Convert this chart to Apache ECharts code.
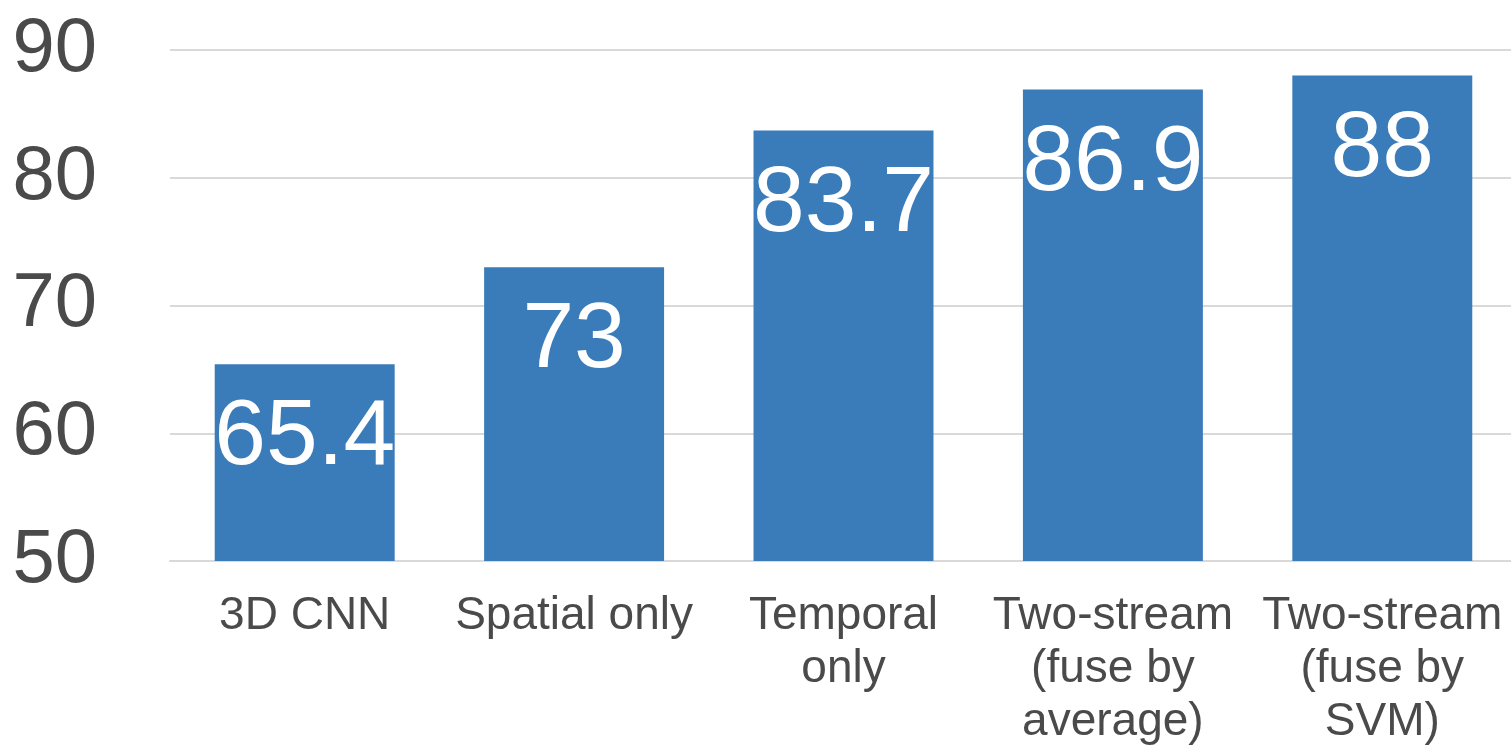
<!DOCTYPE html>
<html>
<head>
<meta charset="utf-8">
<title>Accuracy by method</title>
<script src="https://cdn.jsdelivr.net/npm/echarts@6/dist/echarts.min.js"></script>
<style>
  html, body { margin: 0; padding: 0; background: #ffffff; overflow: hidden; }
  /* the plot runs a few pixels past the right edge of the page */
  #chart { width: 1520px; height: 749px; }
</style>
</head>
<body>
<div id="chart"></div>
<script>
// Methods on the x axis (line breaks as shown under each bar)
const categories = [
  '3D CNN',
  'Spatial only',
  'Temporal\nonly',
  'Two-stream\n(fuse by\naverage)',
  'Two-stream\n(fuse by\nSVM)'
];

// Accuracy per method
const accuracy = [65.4, 73, 83.7, 86.9, 88];

// Value axis range
const yMin = 50;
const yMax = 90;
const yStep = 10;

const textColor = '#4a4a4a';
const barColor = '#3a7bb9';
const lineColor = '#d9d9d9';
const fontFamily = '"Liberation Sans", Arial, sans-serif';

const chart = echarts.init(document.getElementById('chart'), null, { renderer: 'canvas' });

chart.setOption({
  backgroundColor: '#ffffff',
  animation: false,
  grid: {
    left: 170,
    top: 50,
    width: 1347,
    height: 512,
    containLabel: false
  },
  xAxis: {
    type: 'category',
    data: categories,
    axisLine: { show: true, lineStyle: { color: lineColor, width: 2 } },
    axisTick: { show: false },
    axisLabel: {
      color: textColor,
      fontFamily: fontFamily,
      fontSize: 46,
      lineHeight: 53,
      margin: 29,
      interval: 0
    }
  },
  yAxis: {
    type: 'value',
    min: yMin,
    max: yMax,
    interval: yStep,
    axisLine: { show: false },
    axisTick: { show: false },
    splitLine: { show: true, lineStyle: { color: lineColor, width: 2 } },
    axisLabel: {
      color: textColor,
      fontFamily: fontFamily,
      fontSize: 76,
      margin: 73,
      verticalAlign: 'middle',
      padding: [0, 0, 8, 0]
    }
  },
  series: [{
    type: 'bar',
    data: accuracy,
    barWidth: '66.8%',
    itemStyle: { color: barColor },
    label: {
      show: true,
      position: 'insideTop',
      distance: 28,
      color: '#ffffff',
      fontFamily: fontFamily,
      fontSize: 93
    }
  }]
});
</script>
</body>
</html>
